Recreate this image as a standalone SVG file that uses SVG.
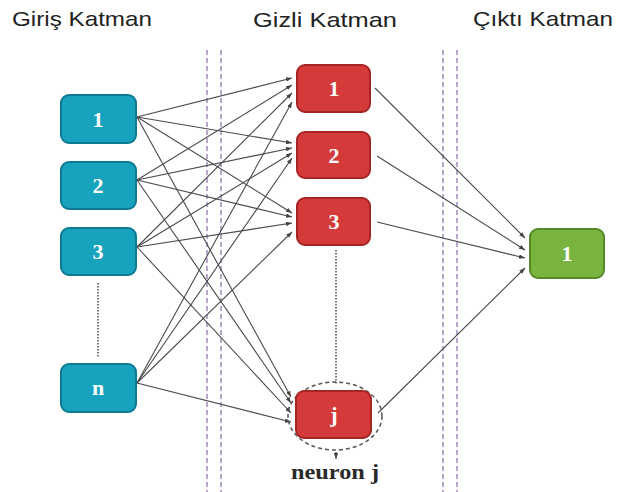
<svg xmlns="http://www.w3.org/2000/svg" width="625" height="492" viewBox="0 0 625 492">
<defs>
<marker id="ah" viewBox="0 0 8 6" refX="8" refY="3" markerWidth="6" markerHeight="4.5" orient="auto" markerUnits="userSpaceOnUse">
<path d="M0,0 L8,3 L0,6 z" fill="#444"/>
</marker>
<style>
.title{font-family:"Liberation Sans",Arial,sans-serif;font-size:21px;fill:#222}
.lbl{font-family:"Liberation Serif","Times New Roman",serif;font-size:22px;font-weight:bold;fill:#fff;text-anchor:middle}
.cap{font-family:"Liberation Serif","Times New Roman",serif;font-size:22px;font-weight:bold;fill:#2a2a2a;text-anchor:middle}
.in{fill:#17a2bd;stroke:#0d7a92;stroke-width:2}
.hid{fill:#d53a3a;stroke:#a52525;stroke-width:2}
.out{fill:#78b43f;stroke:#558a2a;stroke-width:2}
.sep{stroke:#b9a7c9;stroke-width:2;stroke-dasharray:5,3;fill:none}
.dot{stroke:#777;stroke-width:2;stroke-dasharray:1.5,1.5;fill:none}
.c{stroke:#4a4a4a;stroke-width:1.1;fill:none;marker-end:url(#ah)}
</style>
</defs>
<rect width="625" height="492" fill="#fff"/>
<text class="title" x="12" y="26" textLength="140" lengthAdjust="spacingAndGlyphs">Giriş Katman</text>
<text class="title" x="253" y="27" textLength="144" lengthAdjust="spacingAndGlyphs">Gizli Katman</text>
<text class="title" x="473" y="26" textLength="140" lengthAdjust="spacingAndGlyphs">Çıktı Katman</text>
<g id="separators">
<line class="sep" x1="207" y1="50" x2="207" y2="492"/>
<line class="sep" x1="221" y1="50" x2="221" y2="492"/>
<line class="sep" x1="443" y1="50" x2="443" y2="492"/>
<line class="sep" x1="457" y1="50" x2="457" y2="492"/>
<line class="dot" x1="98" y1="283" x2="98" y2="358"/>
<line class="dot" x1="336" y1="250" x2="336" y2="384"/>
</g>
<g id="connectors">
<line class="c" x1="137" y1="117" x2="292" y2="78"/>
<line class="c" x1="137" y1="180" x2="292" y2="85"/>
<line class="c" x1="137" y1="247" x2="292" y2="93"/>
<line class="c" x1="137" y1="383" x2="292" y2="102"/>
<line class="c" x1="137" y1="117" x2="292" y2="143"/>
<line class="c" x1="137" y1="180" x2="292" y2="148"/>
<line class="c" x1="137" y1="247" x2="292" y2="153"/>
<line class="c" x1="137" y1="383" x2="292" y2="158"/>
<line class="c" x1="137" y1="117" x2="292" y2="213"/>
<line class="c" x1="137" y1="180" x2="292" y2="217"/>
<line class="c" x1="137" y1="247" x2="292" y2="223"/>
<line class="c" x1="137" y1="383" x2="292" y2="232"/>
<line class="c" x1="137" y1="117" x2="291" y2="397"/>
<line class="c" x1="137" y1="180" x2="291" y2="403"/>
<line class="c" x1="137" y1="247" x2="291" y2="413"/>
<line class="c" x1="137" y1="383" x2="291" y2="422"/>
<line class="c" x1="375" y1="88" x2="525" y2="238"/>
<line class="c" x1="377" y1="156" x2="525" y2="250"/>
<line class="c" x1="377" y1="222" x2="525" y2="258"/>
<line class="c" x1="378" y1="413" x2="525" y2="268"/>
<line class="c" x1="336" y1="452" x2="336" y2="459"/>
</g>
<g id="in1"><rect class="in" x="61" y="95" width="75" height="48" rx="8"/><text class="lbl" x="98" y="127">1</text></g>
<g id="in2"><rect class="in" x="61" y="162" width="75" height="47" rx="8"/><text class="lbl" x="98" y="193">2</text></g>
<g id="in3"><rect class="in" x="61" y="228" width="75" height="47" rx="8"/><text class="lbl" x="98" y="259">3</text></g>
<g id="inn"><rect class="in" x="61" y="364" width="75" height="48" rx="8"/><text class="lbl" x="98" y="395">n</text></g>
<g id="h1"><rect class="hid" x="297" y="65" width="73" height="47" rx="8"/><text class="lbl" x="334" y="96">1</text></g>
<g id="h2"><rect class="hid" x="297" y="132" width="73" height="46" rx="8"/><text class="lbl" x="334" y="163">2</text></g>
<g id="h3"><rect class="hid" x="297" y="198" width="73" height="47" rx="8"/><text class="lbl" x="334" y="229">3</text></g>
<g id="hj">
<ellipse cx="335" cy="416" rx="47" ry="34" fill="none" stroke="#555" stroke-width="1.5" stroke-dasharray="4,3"/>
<rect class="hid" x="296" y="391" width="75" height="47" rx="8"/><text class="lbl" x="334" y="422">j</text>
<text class="cap" x="335" y="479" textLength="88" lengthAdjust="spacingAndGlyphs">neuron j</text>
</g>
<g id="o1"><rect class="out" x="530" y="229" width="74" height="49" rx="8"/><text class="lbl" x="567" y="261">1</text></g>
</svg>
